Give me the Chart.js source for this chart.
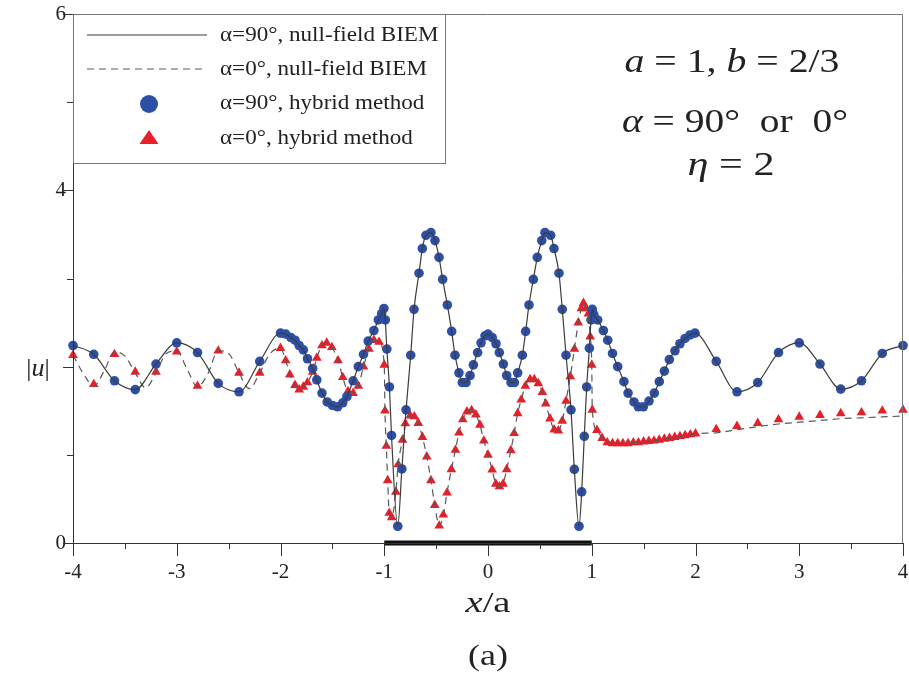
<!DOCTYPE html>
<html>
<head>
<meta charset="utf-8">
<script src="https://cdn.jsdelivr.net/npm/chart.js@4.4.0/dist/chart.umd.min.js"></script>
<style>
  html, body { margin: 0; padding: 0; background: #fff; }
  canvas { display: block; }
</style>
</head>
<body>
<canvas id="chart" width="909" height="673"></canvas>
<script>
// alpha = 90 deg, hybrid method (blue circles) - also used for the null-field BIEM solid line
const blueX = [
  -4, -3.8, -3.6, -3.4, -3.2, -3, -2.8, -2.6, -2.4, -2.2, -2,
  -1.95, -1.9, -1.86, -1.82, -1.78, -1.74, -1.69, -1.65, -1.6, -1.55, -1.5, -1.45, -1.4, -1.36,
  -1.3, -1.25, -1.2, -1.155, -1.1, -1.057, -1.025, -1.003, -0.99, -0.975, -0.95, -0.93, -0.87, -0.83,
  -0.79, -0.745, -0.713, -0.665, -0.633, -0.598, -0.55, -0.511, -0.472, -0.437, -0.392, -0.35,
  -0.318, -0.28, -0.248, -0.212, -0.173, -0.141, -0.1, -0.067, -0.029,
  0, 0.041, 0.077, 0.109, 0.148, 0.18, 0.222, 0.254, 0.286, 0.331, 0.363, 0.395, 0.437, 0.475,
  0.518, 0.549, 0.604, 0.636, 0.684, 0.716, 0.752, 0.8, 0.832, 0.877, 0.903, 0.928, 0.951, 0.977,
  0.993, 1.005, 1.02, 1.057, 1.112, 1.154, 1.2, 1.25, 1.31, 1.35, 1.407, 1.449, 1.497, 1.552,
  1.603, 1.651, 1.7, 1.748, 1.802, 1.85, 1.899, 1.947, 1.995,
  2.2, 2.4, 2.6, 2.8, 3, 3.2, 3.4, 3.6, 3.8, 4
];
const blueY = [
  2.24, 2.14, 1.84, 1.74, 2.03, 2.27, 2.16, 1.81, 1.715, 2.06, 2.38,
  2.37, 2.33, 2.30, 2.24, 2.19, 2.09, 1.98, 1.85, 1.70, 1.60, 1.56, 1.545, 1.59, 1.66,
  1.84, 2.0, 2.14, 2.29, 2.41, 2.53, 2.60, 2.66, 2.53, 2.2, 1.77, 1.22, 0.19, 0.84,
  1.51, 2.13, 2.65, 3.06, 3.34, 3.49, 3.52, 3.43, 3.24, 2.99, 2.70, 2.40,
  2.13, 1.93, 1.82, 1.82, 1.90, 2.02, 2.16, 2.27, 2.35,
  2.37, 2.33, 2.26, 2.16, 2.03, 1.90, 1.82, 1.82, 1.93, 2.13, 2.40, 2.70, 2.99, 3.24,
  3.43, 3.52, 3.49, 3.34, 3.06, 2.65, 2.13, 1.51, 0.835, 0.19, 0.58, 1.21, 1.77, 2.21,
  2.53, 2.65, 2.59, 2.53, 2.41, 2.30, 2.15, 2.0, 1.83, 1.70, 1.60, 1.545, 1.545, 1.61,
  1.70, 1.83, 1.95, 2.08, 2.18, 2.26, 2.32, 2.36, 2.38,
  2.06, 1.715, 1.82, 2.16, 2.27, 2.03, 1.745, 1.84, 2.15, 2.24
];

// alpha = 0 deg, hybrid method (red triangles)
const redX = [
  -4, -3.8, -3.6, -3.4, -3.2, -3, -2.8, -2.6, -2.4, -2.2, -2,
  -1.95, -1.91, -1.86, -1.82, -1.78, -1.74, -1.69, -1.65, -1.6, -1.555, -1.505, -1.445, -1.4,
  -1.35, -1.3, -1.25, -1.2, -1.147, -1.1, -1.05, -1, -0.993, -0.98, -0.967, -0.952, -0.928,
  -0.888, -0.866, -0.824, -0.797, -0.75, -0.71, -0.672, -0.632, -0.59, -0.55, -0.513, -0.47,
  -0.43, -0.395, -0.353, -0.314, -0.28, -0.243, -0.203, -0.158, -0.117, -0.078, -0.04,
  0, 0.04, 0.075, 0.11, 0.145, 0.18, 0.22, 0.252, 0.286, 0.32, 0.36, 0.405, 0.446, 0.485,
  0.524, 0.556, 0.598, 0.638, 0.678, 0.716, 0.752, 0.793, 0.833, 0.87, 0.9, 0.92, 0.945,
  0.967, 0.985, 1, 1.005, 1.05, 1.1,
  1.15, 1.2, 1.25, 1.3, 1.35, 1.4, 1.45, 1.5, 1.55, 1.6, 1.65, 1.7, 1.75, 1.8, 1.85, 1.9, 1.95, 2,
  2.2, 2.4, 2.6, 2.8, 3, 3.2, 3.4, 3.6, 3.8, 4
];
const redY = [
  2.13, 1.80, 2.14, 1.94, 1.94, 2.17, 1.78, 2.18, 1.93, 1.93, 2.21,
  2.07, 1.91, 1.79, 1.74, 1.77, 1.82, 1.94, 2.10, 2.24, 2.27, 2.22, 2.07, 1.88,
  1.72, 1.70, 1.78, 2.00, 2.20, 2.30, 2.28, 2.02, 1.50, 1.10, 0.71, 0.34, 0.29,
  0.58, 0.89, 1.17, 1.355, 1.445, 1.435, 1.36, 1.20, 0.98, 0.71, 0.43, 0.195,
  0.32, 0.57, 0.835, 1.055, 1.25, 1.40, 1.49, 1.505, 1.455, 1.34, 1.16,
  1.00, 0.83, 0.67, 0.64, 0.67, 0.835, 1.05, 1.245, 1.47, 1.625, 1.78, 1.855, 1.855, 1.81,
  1.71, 1.58, 1.41, 1.285, 1.275, 1.385, 1.61, 1.89, 2.20, 2.50, 2.66, 2.72, 2.66,
  2.60, 2.34, 2.02, 1.51, 1.28, 1.19,
  1.14, 1.13, 1.13, 1.13, 1.13, 1.14, 1.14, 1.15, 1.155, 1.16, 1.17, 1.18, 1.19, 1.20, 1.21, 1.22, 1.23, 1.24,
  1.29, 1.325, 1.36, 1.40, 1.43, 1.45, 1.47, 1.48, 1.50, 1.51
];

// alpha = 0 deg, null-field BIEM (dashed line) where it runs apart from the triangles
const dashLeftX = [-4, -3.9, -3.8, -3.7, -3.6, -3.5, -3.4, -3.3, -3.2, -3.1, -3, -2.9, -2.8, -2.7, -2.6, -2.5, -2.4, -2.3, -2.2, -2.1];
const dashLeftY = [2.13, 1.92, 1.78, 1.95, 2.17, 2.12, 1.93, 1.76, 1.93, 2.15, 2.18, 1.97, 1.77, 1.92, 2.18, 2.15, 1.93, 1.75, 1.93, 2.15];
const dashRightX = [2.2, 2.4, 2.6, 2.8, 3, 3.2, 3.4, 3.6, 3.8, 4];
const dashRightY = [1.25, 1.285, 1.32, 1.35, 1.37, 1.39, 1.41, 1.42, 1.43, 1.44];

// the strip on the x axis
const stripX = [-1, 1];
const stripY = [0, 0];

const xTicks = [-4, -3, -2, -1, 0, 1, 2, 3, 4];
const yTickLabels = [0, 4, 6];

const labels = ['α=90°, null-field BIEM', 'α=0°, null-field BIEM', 'α=90°, hybrid method', 'α=0°, hybrid method'];

const serif = '"Liberation Serif", "Times New Roman", serif';
const toPoints = (xs, ys) => xs.map((x, i) => ({ x: x, y: ys[i] }));

// dashed line: dense left part, the triangle values in [-2, 2], then the right part
const midDash = toPoints(redX, redY).filter(p => p.x >= -2 && p.x <= 2);
const dashPoints = toPoints(dashLeftX, dashLeftY).concat(midDash, toPoints(dashRightX, dashRightY));

const blue = '#2d4fa6';
const red = '#e5202a';

// text made of upright and italic pieces, centred on x (or left aligned),
// optionally stretched to a given width
function richText(ctx, parts, x, y, size, opt) {
  opt = opt || {};
  const widths = parts.map(p => {
    ctx.font = (p[1] ? 'italic ' : '') + size + 'px ' + serif;
    return ctx.measureText(p[0]).width;
  });
  const total = widths.reduce((a, b) => a + b, 0);
  const k = opt.width ? opt.width / total : (opt.scale || 1);
  ctx.save();
  ctx.translate(opt.left ? x : x - total * k / 2, y);
  ctx.scale(k, 1);
  let cx = 0;
  parts.forEach((p, i) => {
    ctx.font = (p[1] ? 'italic ' : '') + size + 'px ' + serif;
    ctx.fillText(p[0], cx, 0);
    cx += widths[i];
  });
  ctx.restore();
}

const decor = {
  id: 'decor',
  afterDraw(chart) {
    const ctx = chart.ctx;
    const a = chart.chartArea;
    const xs = chart.scales.x;
    const ys = chart.scales.y;
    ctx.save();

    // frame
    ctx.lineWidth = 1;
    ctx.strokeStyle = '#777';
    ctx.beginPath();
    ctx.moveTo(a.left, a.top + 0.5);
    ctx.lineTo(a.right - 0.5, a.top + 0.5);
    ctx.lineTo(a.right - 0.5, a.bottom);
    ctx.stroke();
    ctx.strokeStyle = '#333';
    ctx.beginPath();
    ctx.moveTo(a.left + 0.5, a.top);
    ctx.lineTo(a.left + 0.5, a.bottom + 0.5);
    ctx.lineTo(a.right, a.bottom + 0.5);
    ctx.stroke();

    // tick marks, long at whole numbers
    ctx.beginPath();
    for (let v = -4; v <= 4; v += 0.5) {
      const px = Math.round(xs.getPixelForValue(v)) + 0.5;
      ctx.moveTo(px, a.bottom);
      ctx.lineTo(px, a.bottom + (Number.isInteger(v) ? 13 : 6));
    }
    for (let v = 0; v <= 6; v += 1) {
      const py = Math.round(ys.getPixelForValue(v)) + 0.5;
      ctx.moveTo(a.left - (v % 2 === 0 ? 10 : 6), py);
      ctx.lineTo(a.left, py);
    }
    ctx.stroke();

    // legend box
    ctx.fillStyle = '#fff';
    ctx.fillRect(a.left + 1, a.top + 1, 371, 148);
    ctx.strokeStyle = '#777';
    ctx.strokeRect(a.left + 0.5, a.top + 0.5, 372, 149);

    const ds = chart.data.datasets;
    const rowY = [35, 69, 103, 138];
    const sx0 = a.left + 14, sx1 = a.left + 134, mx = a.left + 76;
    ctx.lineWidth = 1.2;
    ctx.strokeStyle = ds[0].borderColor;
    ctx.beginPath(); ctx.moveTo(sx0, rowY[0]); ctx.lineTo(sx1, rowY[0]); ctx.stroke();
    ctx.strokeStyle = ds[1].borderColor;
    ctx.setLineDash(ds[1].borderDash);
    ctx.beginPath(); ctx.moveTo(sx0, rowY[1]); ctx.lineTo(sx1, rowY[1]); ctx.stroke();
    ctx.setLineDash([]);
    ctx.fillStyle = ds[2].backgroundColor;
    ctx.beginPath(); ctx.arc(mx, rowY[2] + 1, 9, 0, Math.PI * 2); ctx.fill();
    ctx.fillStyle = ds[3].backgroundColor;
    ctx.beginPath();
    ctx.moveTo(mx, rowY[3] - 8);
    ctx.lineTo(mx + 9.5, rowY[3] + 6);
    ctx.lineTo(mx - 9.5, rowY[3] + 6);
    ctx.closePath(); ctx.fill();

    ctx.fillStyle = '#222';
    ctx.textBaseline = 'middle';
    for (let i = 0; i < 4; i++) {
      richText(ctx, [[ds[i].label, 0]], a.left + 147, rowY[i], 22, { left: true, scale: 1.05 });
    }

    // parameters
    ctx.textBaseline = 'alphabetic';
    richText(ctx, [['a', 1], [' = 1, ', 0], ['b', 1], [' = 2/3', 0]], 732, 72, 34, { width: 215 });
    richText(ctx, [['α', 1], [' = 90°  or  0°', 0]], 735, 132, 34, { width: 226 });
    richText(ctx, [['η', 1], [' = 2', 0]], 731, 175, 34, { width: 87 });

    // axis titles and caption
    richText(ctx, [['x', 1], ['/a', 0]], 488, 612, 30, { width: 45 });
    richText(ctx, [['|', 0], ['u', 1], ['|', 0]], 38, 376, 26);
    richText(ctx, [['(a)', 0]], 488, 665, 30, { width: 40 });
    ctx.restore();
  }
};

Chart.defaults.font.family = serif;
Chart.defaults.color = '#222';

new Chart(document.getElementById('chart'), {
  type: 'scatter',
  data: {
    datasets: [
      {
        label: labels[0],
        data: toPoints(blueX, blueY),
        showLine: true,
        borderColor: '#3c3c3c',
        borderWidth: 1.2,
        pointRadius: 0,
        cubicInterpolationMode: 'monotone',
        order: 1
      },
      {
        label: labels[1],
        data: dashPoints,
        showLine: true,
        borderColor: '#5a5a5a',
        borderWidth: 1.2,
        borderDash: [7, 5],
        pointRadius: 0,
        cubicInterpolationMode: 'monotone',
        order: 2
      },
      {
        label: labels[2],
        data: toPoints(blueX, blueY),
        pointStyle: 'circle',
        pointRadius: 4.8,
        backgroundColor: blue,
        borderWidth: 0,
        clip: false,
        order: 3
      },
      {
        label: labels[3],
        data: toPoints(redX, redY),
        pointStyle: 'triangle',
        pointRadius: 5.6,
        backgroundColor: red,
        borderWidth: 0,
        clip: false,
        order: 4
      },
      {
        label: 'strip',
        data: toPoints(stripX, stripY),
        showLine: true,
        borderColor: '#111',
        borderWidth: 5,
        pointRadius: 0,
        clip: false,
        order: 0
      }
    ]
  },
  options: {
    responsive: false,
    animation: false,
    devicePixelRatio: 1,
    layout: { padding: { left: 0, right: 6, top: 14, bottom: 0 } },
    plugins: { legend: { display: false }, tooltip: { enabled: false } },
    scales: {
      x: {
        type: 'linear',
        min: -4,
        max: 4,
        border: { display: false },
        grid: { drawOnChartArea: false, tickLength: 13, tickColor: 'rgba(0,0,0,0)' },
        ticks: {
          stepSize: 0.5,
          autoSkip: false,
          maxRotation: 0,
          padding: 4,
          font: { size: 21 },
          callback: v => xTicks.includes(v) ? String(v) : ''
        },
        afterFit: s => { s.height = 130; s.paddingLeft = 0; s.paddingRight = 0; }
      },
      y: {
        min: 0,
        max: 6,
        border: { display: false },
        grid: { drawOnChartArea: false, tickLength: 6, tickColor: 'rgba(0,0,0,0)' },
        ticks: {
          stepSize: 1,
          padding: 1,
          font: { size: 21 },
          callback: v => yTickLabels.includes(v) ? String(v) : ''
        },
        afterFit: s => { s.width = 73; s.paddingTop = 0; s.paddingBottom = 0; }
      }
    }
  },
  plugins: [decor]
});
</script>
</body>
</html>
